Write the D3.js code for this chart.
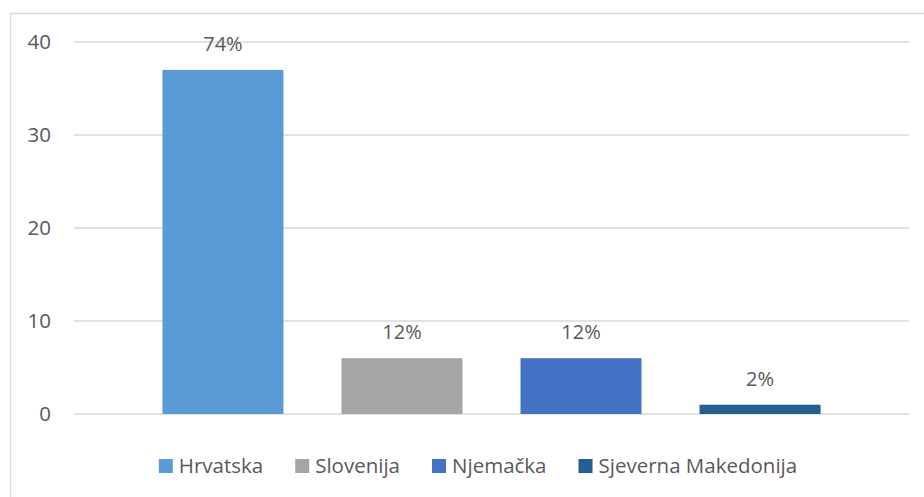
<!DOCTYPE html>
<html>
<head>
<meta charset="utf-8">
<script src="https://cdn.jsdelivr.net/npm/d3@7"></script>
<style>
  html, body { margin: 0; padding: 0; background: #fff; }
  svg { display: block; }
</style>
</head>
<body>
<svg id="chart" width="924" height="497"></svg>
<script>
const categories = ["Hrvatska", "Slovenija", "Njemačka", "Sjeverna Makedonija"];
const values = [37, 6, 6, 1];
const valueLabels = ["74%", "12%", "12%", "2%"];
const colors = ["#5B9BD5", "#A5A5A5", "#4472C4", "#255E91"];
const yTicks = [0, 10, 20, 30, 40];

const W = 924, H = 497;
const font = "'Open Sans', 'DejaVu Sans', sans-serif";
const textColor = "#595959";
const svg = d3.select("#chart");

// outer frame
svg.append("rect")
  .attr("x", 10.5).attr("y", 13.5)
  .attr("width", 1000).attr("height", 1000)
  .attr("fill", "#fff").attr("stroke", "#D9D9D9").attr("stroke-width", 1.5);

const plot = { left: 74, right: 909, top: 42, bottom: 414 };

const y = d3.scaleLinear().domain([0, 40]).range([plot.bottom, plot.top]);
const x = d3.scaleBand().domain(categories)
  .range([plot.left, plot.right])
  .paddingInner(0.324).paddingOuter(0.494);

// gridlines
svg.append("g").selectAll("line").data(yTicks).join("line")
  .attr("x1", plot.left).attr("x2", plot.right)
  .attr("y1", d => y(d)).attr("y2", d => y(d))
  .attr("stroke", "#D9D9D9").attr("stroke-width", 1.5);

// y tick labels
svg.append("g").selectAll("text").data(yTicks).join("text")
  .attr("x", 51).attr("y", d => y(d))
  .attr("dy", "0.36em")
  .attr("text-anchor", "end")
  .attr("font-family", font).attr("font-size", 20.5)
  .attr("fill", textColor)
  .text(d => d);

// bars
svg.append("g").selectAll("rect").data(categories).join("rect")
  .attr("x", d => x(d))
  .attr("width", x.bandwidth())
  .attr("y", (d, i) => y(values[i]))
  .attr("height", (d, i) => y(0) - y(values[i]))
  .attr("fill", (d, i) => colors[i]);

// data labels
svg.append("g").selectAll("text").data(categories).join("text")
  .attr("x", d => x(d) + x.bandwidth() / 2)
  .attr("y", (d, i) => y(values[i]) - 19)
  .attr("text-anchor", "middle")
  .attr("font-family", font).attr("font-size", 20)
  .attr("fill", textColor)
  .text((d, i) => valueLabels[i]);

// legend
const legend = svg.append("g");
const items = legend.selectAll("g").data(categories).join("g");
items.append("rect")
  .attr("width", 14).attr("height", 14)
  .attr("y", 459)
  .attr("fill", (d, i) => colors[i]);
items.append("text")
  .attr("y", 473)
  .attr("font-family", font).attr("font-size", 20.5)
  .attr("fill", textColor)
  .text(d => d);
// layout
let widths = [];
items.each(function() { widths.push(d3.select(this).select("text").node().getComputedTextLength()); });
const sq = 14, gapText = 6, gapItem = 32;
const total = d3.sum(widths) + categories.length * (sq + gapText) + (categories.length - 1) * gapItem;
let cx = 478 - total / 2;
items.each(function(d, i) {
  const g = d3.select(this);
  g.select("rect").attr("x", cx);
  g.select("text").attr("x", cx + sq + gapText);
  cx += sq + gapText + widths[i] + gapItem;
});
</script>
</body>
</html>
